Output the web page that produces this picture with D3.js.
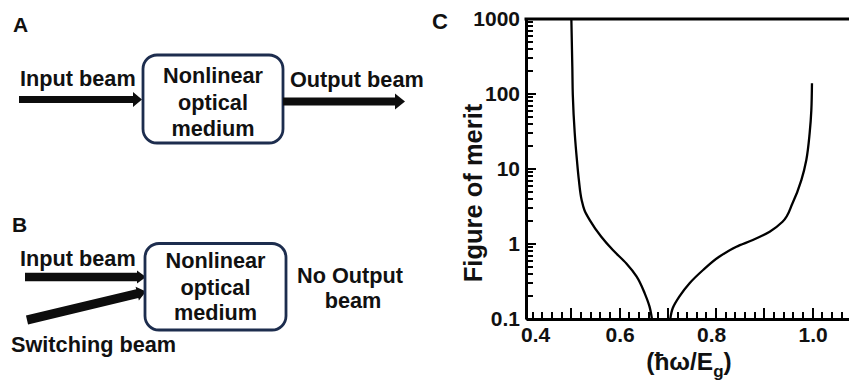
<!DOCTYPE html>
<html><head><meta charset="utf-8">
<script src="https://cdn.jsdelivr.net/npm/d3@7"></script>
<style>body{margin:0;background:#fff}svg{display:block}text{font-family:Arial,"Liberation Sans",sans-serif;font-weight:bold;fill:#111}</style>
</head><body><svg id="c" width="849" height="383"></svg>
<script>
// ---- data ----
const leftX  = [0.500,0.502,0.503,0.507,0.5115,0.5156,0.5212,0.5274,0.5378,0.562,0.586,0.614,0.635,0.652,0.662,0.667];
const leftY  = [1000,230,97,30,13.2,7.1,3.9,2.8,2.1,1.25,0.83,0.55,0.37,0.22,0.146,0.1];
const rightX = [0.705,0.710,0.724,0.745,0.773,0.807,0.842,0.876,0.911,0.9376,0.9583,0.9766,0.9869,0.9938,0.9973,0.9986];
const rightY = [0.1,0.139,0.2,0.3,0.45,0.68,0.92,1.13,1.46,1.98,3.49,7.1,13.2,30,61,139];
const xTickLabels = [0.4,0.6,0.8,1.0];
const yTickLabels = [0.1,1,10,100,1000];
const yTickText = ["0.1","1","10","100","1000"];

const svg = d3.select("#c");
const x = d3.scaleLinear().domain([0.406,1.1]).range([526,860.9]);
const y = d3.scaleLog().domain([0.1,1000]).range([319,19]);
const x0 = x(0.406), yB = y(0.1);
const rx = v => Math.round(x(v)), ry = v => Math.round(y(v));

// ---- panel C ----
const g = svg.append("g");
const yMinor = [];
for (let e=-1;e<3;e++) for (let k=2;k<=9;k++) yMinor.push(k*Math.pow(10,e));
const xMinor = d3.range(0.42,1.1,0.02).filter(v=>Math.abs(v*10-Math.round(v*10))>1e-6);
const xMajor = d3.range(0.5,1.1,0.1);

// y axis + labels
g.append("g").attr("transform",`translate(${x0},0)`)
  .call(d3.axisLeft(y).tickValues(yTickLabels).tickSize(0).tickSizeOuter(0).tickPadding(6).tickFormat((d,i)=>yTickText[i]))
  .call(a=>{a.select(".domain").attr("stroke","#000").attr("stroke-width",3);
    a.selectAll("text").style("font-size","21px").style("font-family","Arial,'Liberation Sans',sans-serif").style("font-weight","bold").attr("fill","#111");});
// x axis + labels
g.append("g").attr("transform",`translate(0,${yB})`)
  .call(d3.axisBottom(x).tickValues(xTickLabels).tickSize(0).tickSizeOuter(0).tickPadding(8).tickFormat(d3.format(".1f")))
  .call(a=>{a.select(".domain").attr("stroke","#000").attr("stroke-width",3);
    a.selectAll("text").style("font-size","21px").style("font-family","Arial,'Liberation Sans',sans-serif").style("font-weight","bold").attr("fill","#111")
     .attr("dx",(d,i)=>i===0?12:(i===2?-5:0));});

// y ticks (inward)
g.selectAll("line.ym").data(yMinor).join("line").attr("class","ym")
  .attr("x1",x0).attr("x2",x0+7).attr("y1",ry).attr("y2",ry)
  .attr("stroke","#000").attr("stroke-width",2);
g.selectAll("line.yM").data(yTickLabels).join("line").attr("class","yM")
  .attr("x1",x0).attr("x2",x0+10).attr("y1",ry).attr("y2",ry)
  .attr("stroke","#000").attr("stroke-width",2);
// x ticks (inward)
g.selectAll("line.xm").data(xMinor).join("line").attr("class","xm")
  .attr("x1",rx).attr("x2",rx).attr("y1",yB).attr("y2",yB-7)
  .attr("stroke","#000").attr("stroke-width",2);
g.selectAll("line.xM").data(xMajor).join("line").attr("class","xM")
  .attr("x1",rx).attr("x2",rx).attr("y1",yB).attr("y2",yB-11)
  .attr("stroke","#000").attr("stroke-width",2);

// top frame line at 1000
g.append("line").attr("x1",x0-1.5).attr("x2",849).attr("y1",y(1000)).attr("y2",y(1000))
  .attr("stroke","#000").attr("stroke-width",3);
// curves
const line = d3.line().x(d=>x(d[0])).y(d=>y(d[1])).curve(d3.curveMonotoneY);
g.append("path").datum(leftX.map((v,i)=>[v,leftY[i]])).attr("d",line)
  .attr("fill","none").attr("stroke","#000").attr("stroke-width",2.3);
g.append("path").datum(rightX.map((v,i)=>[v,rightY[i]])).attr("d",line)
  .attr("fill","none").attr("stroke","#000").attr("stroke-width",2.3);
// titles
g.append("text").attr("transform","translate(482,193) rotate(-90)").attr("text-anchor","middle")
  .style("font-size","25.5px").text("Figure of merit");
const xt = g.append("text").attr("x",689).attr("y",370).attr("text-anchor","middle").style("font-size","24.5px");
xt.append("tspan").text("(ħω/E");
xt.append("tspan").attr("dy",7).style("font-size","17px").text("g");
xt.append("tspan").attr("dy",-7).text(")");
svg.append("text").attr("x",432).attr("y",29).style("font-size","22px").text("C");

// ---- panels A and B (schematic) ----
function arrow(x1,y1,x2,y2,sw,hw,hl){
  const ang=Math.atan2(y2-y1,x2-x1), L=Math.hypot(x2-x1,y2-y1);
  const pts=[[0,-sw/2],[L-hl,-sw/2],[L-hl,-hw/2],[L,0],[L-hl,hw/2],[L-hl,sw/2],[0,sw/2]];
  svg.append("polygon").attr("points",pts.map(p=>p.join(",")).join(" "))
    .attr("transform",`translate(${x1},${y1}) rotate(${ang*180/Math.PI})`).attr("fill","#0d0d0d");
}
function box(bx,by,w,h,lines,baselines){
  svg.append("rect").attr("x",bx).attr("y",by).attr("width",w).attr("height",h).attr("rx",14)
    .attr("fill","#fff").attr("stroke","#1d2d4e").attr("stroke-width",2.8);
  lines.forEach((t,i)=>svg.append("text").attr("x",bx+w/2).attr("y",baselines[i]).attr("text-anchor","middle")
    .style("font-size","21.7px").text(t));
}
function label(t,xx,yy,anchor,size){
  svg.append("text").attr("x",xx).attr("y",yy).attr("text-anchor",anchor||"start").style("font-size",(size||21.7)+"px").text(t);
}
label("A",13,32,"start",21);
label("Input beam",20,86);
arrow(19,99.5,142,99.5,7,15,9);
box(143,55,140,88,["Nonlinear","optical","medium"],[83,110,136]);
arrow(283,101.5,405,101.5,8,16,10);
label("Output beam",290,87);

label("B",12,232,"start",21);
label("Input beam",20,266);
arrow(25,277,146,277,8.5,13,9);
arrow(27,320,146,291.5,9,14,9);
box(145,243.5,141,86.5,["Nonlinear","optical","medium"],[268,295,320]);
label("No Output",350,283,"middle");
label("beam",353,308,"middle");
label("Switching beam",11,352);
</script></body></html>
